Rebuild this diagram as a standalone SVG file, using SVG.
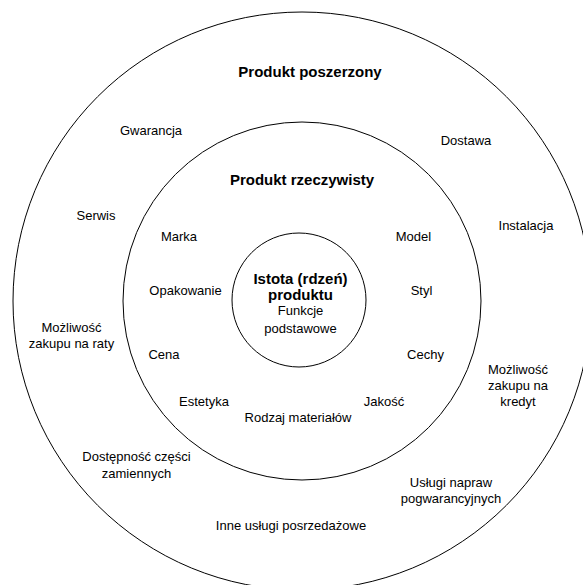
<svg xmlns="http://www.w3.org/2000/svg" width="583" height="585" viewBox="0 0 583 585">
<style>
.ring{fill:none;stroke:#000;stroke-width:1}
.t{font-family:"Liberation Sans",Arial,sans-serif;font-size:13px;fill:#000;text-anchor:middle}
.b{font-family:"Liberation Sans",Arial,sans-serif;font-size:15px;font-weight:bold;fill:#000;text-anchor:middle}
</style>
<rect width="583" height="585" fill="#fff"/>
<g id="outer">
<circle class="ring" cx="302" cy="301" r="289"/>
<text class="b" x="310" y="77">Produkt poszerzony</text>
<text class="t" x="151" y="134.5">Gwarancja</text>
<text class="t" x="466" y="145">Dostawa</text>
<text class="t" x="96" y="220">Serwis</text>
<text class="t" x="526" y="230">Instalacja</text>
<text class="t" x="71.5" y="331.5">Możliwość</text>
<text class="t" x="71.5" y="347.5">zakupu na raty</text>
<text class="t" x="518" y="373.5">Możliwość</text>
<text class="t" x="518" y="390">zakupu na</text>
<text class="t" x="518" y="405.5">kredyt</text>
<text class="t" x="136.5" y="461">Dostępność części</text>
<text class="t" x="136.5" y="477.5">zamiennych</text>
<text class="t" x="451" y="487">Usługi napraw</text>
<text class="t" x="451" y="502.5">pogwarancyjnych</text>
<text class="t" x="291" y="530">Inne usługi posrzedażowe</text>
</g>
<g id="middle">
<circle class="ring" cx="302" cy="301" r="179"/>
<text class="b" x="302" y="184.5">Produkt rzeczywisty</text>
<text class="t" x="179" y="241">Marka</text>
<text class="t" x="413.5" y="241">Model</text>
<text class="t" x="185.5" y="295">Opakowanie</text>
<text class="t" x="421.5" y="295">Styl</text>
<text class="t" x="164" y="358.5">Cena</text>
<text class="t" x="425.5" y="358.5">Cechy</text>
<text class="t" x="204" y="405.5">Estetyka</text>
<text class="t" x="384" y="405.5">Jakość</text>
<text class="t" x="298" y="421.5">Rodzaj materiałów</text>
</g>
<g id="core">
<circle class="ring" cx="299" cy="300" r="67"/>
<text class="b" x="300.5" y="283.5">Istota (rdzeń)</text>
<text class="b" x="300.5" y="299.5">produktu</text>
<text class="t" x="300.5" y="315">Funkcje</text>
<text class="t" x="300.5" y="332.5">podstawowe</text>
</g>
<g id="connectors"></g>
</svg>
